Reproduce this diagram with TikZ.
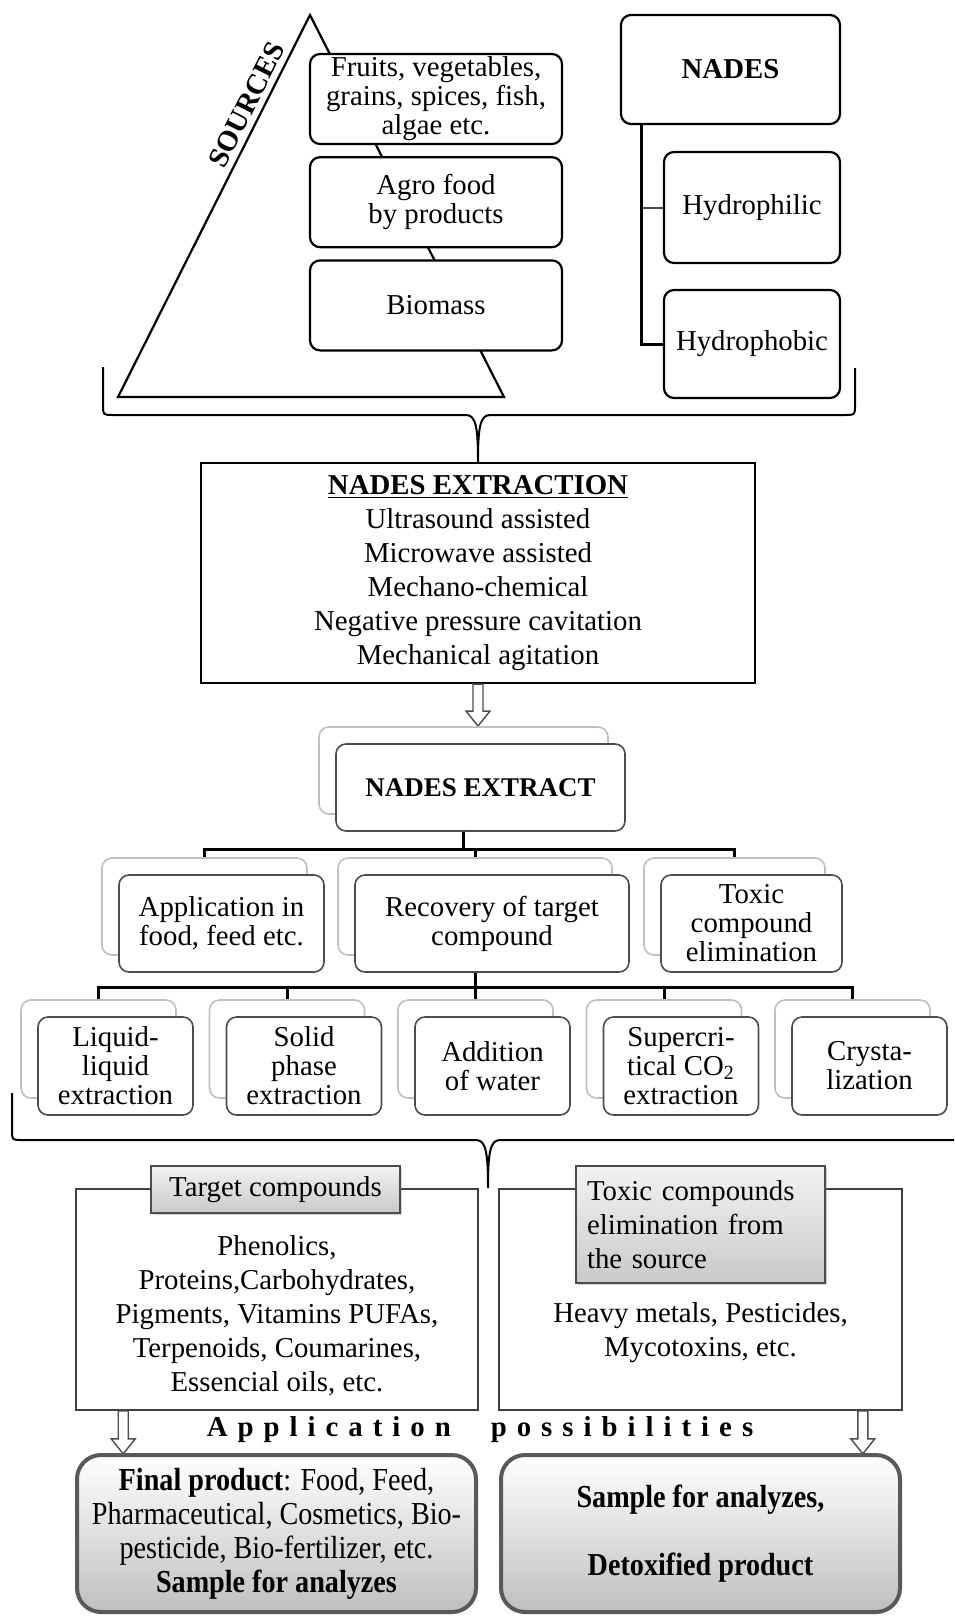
\documentclass[tikz,border=0pt]{standalone}
\usepackage{fontspec}
\setmainfont{Liberation Serif}
\newfontfamily\narrowfont[FakeStretch=0.88]{Liberation Serif}
\usepackage{tikz}
\usetikzlibrary{
    positioning,
    calc,
    shadows
}
\newcommand{\boxfont}{\fontsize{14.4}{14.5}\selectfont}
\newcommand{\listfont}{\fontsize{14.4}{17}\selectfont}
\newcommand{\lsp}{\hspace{5pt}}
\tikzset{
    srcbox/.style={
        rectangle, draw, line width=1.1pt,
        rounded corners=5pt, fill=white,
        minimum width=126pt, minimum height=45pt,
        inner sep=1pt, align=center, font=\boxfont
    },
    backbox/.style={
        rectangle, draw=gray!50, line width=0.8pt,
        rounded corners=5pt, fill=white, inner sep=1pt
    },
    frontbox/.style={
        backbox, draw=black!70, align=center, font=\boxfont
    },
    conn/.style={
        line width=1.5pt, draw=black
    },
    brace/.style={
        line width=1pt, draw=black
    },
    outerbox/.style={
        rectangle, draw=black!75, line width=0.8pt,
        minimum width=201pt, minimum height=110.5pt
    },
    labelbox/.style={
        rectangle, draw=black!70, line width=0.8pt,
        top color=gray!10, bottom color=gray!42,
        drop shadow={shadow xshift=1pt, shadow yshift=-1pt, opacity=0.35},
        minimum width=124.5pt, font=\listfont
    },
    finalbox/.style={
        rectangle, draw=black!65, line width=2pt, rounded corners=12pt,
        top color=white, bottom color=gray!50,
        minimum width=199.5pt, minimum height=78.5pt,
        align=center, font=\narrowfont\fontsize{16}{17}\selectfont
    },
    pics/openarrow/.style={code={
        \draw[line width=0.7pt, draw=black!70, fill=white]
            (-5,0) -- (-5,#1-15) -- (-12,#1-15) -- (0,#1) -- (12,#1-15) -- (5,#1-15) -- (5,0) -- cycle;
    }}
}
\begin{document}
\begin{tikzpicture}[x=0.5pt, y=-0.5pt]
    \useasboundingbox (0,0) rectangle (954,1616);

    % Sources pyramid
    \draw[line width=1.1pt, line join=miter] (310,15) -- (504,397) -- (118,397) -- cycle;
    \node[rotate=63.3, anchor=south, inner sep=3pt, font=\bfseries\boxfont] (sources) at (261,112) {SOURCES};
    \node[srcbox] (fruits) at (436,99) {Fruits, vegetables,\\grains, spices, fish,\\algae etc.};
    \node[srcbox, below=5.5pt of fruits] (agro) {Agro food\\by products};
    \node[srcbox, below=5.5pt of agro] (biomass) {Biomass};

    % NADES types
    \node[srcbox, minimum width=109.5pt, minimum height=54.5pt, font=\bfseries\boxfont] (nades) at (730.5,69.5) {NADES};
    \node[srcbox, minimum width=88pt, minimum height=55.5pt] (hphil) at (752,207.5) {Hydrophilic};
    \node[srcbox, minimum width=88pt, minimum height=54pt] (hphob) at (752,344) {Hydrophobic};
    \draw[line width=1pt, draw=black!70] ([xshift=11pt]nades.south west) |- (hphil.west);
    \draw[conn] ([xshift=11pt]nades.south west) |- (hphob.west);

    % Extraction
    \node[draw, line width=1.1pt, minimum width=277pt, minimum height=110pt, align=center, font=\listfont] (extraction) at (478,573)
        {\underline{\textbf{NADES EXTRACTION}}\\Ultrasound assisted\\Microwave assisted\\Mechano-chemical\\Negative pressure cavitation\\Mechanical agitation};
    \draw[brace] (103,367) -- (103,405) .. controls (103,415) .. (113,415) -- (466,415)
        .. controls (476,415) and (478,428) .. (extraction.north)
        .. controls (478,428) and (480,415) .. (490,415) -- (845,415)
        .. controls (855,415) .. (855,405) -- (855,368);
    \pic at (extraction.south) {openarrow=42};

    % Extract
    \node[backbox, minimum width=144.5pt, minimum height=43.5pt] (extractB) at (463.5,770.5) {};
    \node[frontbox, minimum width=144.5pt, minimum height=43.5pt, font=\bfseries\fontsize{13.5}{14}\selectfont] (extract) at ([shift={(17,17)}]extractB.center) {NADES EXTRACT};

    % Uses of the extract
    \node[backbox, minimum width=102.5pt, minimum height=48.5pt] (appB) at (204.5,906.5) {};
    \node[frontbox, minimum width=102.5pt, minimum height=48.5pt] (app) at ([shift={(17,17)}]appB.center) {Application in\\food, feed etc.};
    \node[backbox, minimum width=137pt, minimum height=48.5pt] (recB) at (475,906.5) {};
    \node[frontbox, minimum width=137pt, minimum height=48.5pt] (rec) at ([shift={(17,17)}]recB.center) {Recovery of target\\compound};
    \node[backbox, minimum width=90.5pt, minimum height=48.5pt] (toxB) at (734.5,906.5) {};
    \node[frontbox, minimum width=90.5pt, minimum height=48.5pt] (tox) at ([shift={(17,17)}]toxB.center) {Toxic\\compound\\elimination};

    \draw[conn] (extractB.south |- extract.south) -- ++(0,18) coordinate (split1);
    \draw[conn] (split1) -| (appB.north);
    \draw[conn] (split1) -| (recB.north);
    \draw[conn] (split1) -| (toxB.north);

    % Recovery methods
    \node[backbox, minimum width=77.5pt, minimum height=49pt] (liqB) at (98.5,1049) {};
    \node[frontbox, minimum width=77.5pt, minimum height=49pt] (liq) at ([shift={(17,17)}]liqB.center) {Liquid-\\liquid\\extraction};
    \node[backbox, minimum width=77.5pt, minimum height=49pt] (solB) at (287,1049) {};
    \node[frontbox, minimum width=77.5pt, minimum height=49pt] (sol) at ([shift={(17,17)}]solB.center) {Solid\\phase\\extraction};
    \node[backbox, minimum width=77.5pt, minimum height=49pt] (addB) at (475.5,1049) {};
    \node[frontbox, minimum width=77.5pt, minimum height=49pt] (add) at ([shift={(17,17)}]addB.center) {Addition\\of water};
    \node[backbox, minimum width=77.5pt, minimum height=49pt] (scB) at (664,1049) {};
    \node[frontbox, minimum width=77.5pt, minimum height=49pt] (sc) at ([shift={(17,17)}]scB.center) {Supercri-\\tical CO\textsubscript{2}\\extraction};
    \node[backbox, minimum width=77.5pt, minimum height=49pt] (cryB) at (852.5,1049) {};
    \node[frontbox, minimum width=77.5pt, minimum height=49pt] (cry) at ([shift={(17,17)}]cryB.center) {Crysta-\\lization};

    \draw[conn] (recB.south |- rec.south) -- ++(0,15) coordinate (split2);
    \draw[conn] (split2) -| (liqB.north);
    \draw[conn] (split2) -| (solB.north);
    \draw[conn] (split2) -| (addB.north);
    \draw[conn] (split2) -| (scB.north);
    \draw[conn] (split2) -| (cryB.north);

    % Lower brace
    \draw[brace] (12,1093) -- (12,1130) .. controls (12,1140) .. (22,1140) -- (476,1140)
        .. controls (486,1140) and (488,1153) .. (488,1188)
        .. controls (488,1153) and (490,1140) .. (500,1140) -- (954,1140);

    % Target compounds
    \node[outerbox] (target) at (277,1299.5) {};
    \node[labelbox, minimum height=23.5pt] (targetlbl) at (275.5,1189.5) {Target compounds};
    \node[align=center, font=\listfont] (targetlist) at (277,1316)
        {Phenolics,\\Proteins,Carbohydrates,\\Pigments, Vitamins PUFAs,\\Terpenoids, Coumarines,\\Essencial oils, etc.};

    % Toxic compounds
    \node[outerbox, minimum width=201.5pt] (toxic) at (700.5,1299.5) {};
    \node[labelbox, minimum height=58.5pt, text width=113.5pt, inner sep=5.5pt, align=left] (toxiclbl) at (700.5,1224.5)
        {Toxic compounds\\elimination from\\the source};
    \node[align=center, font=\listfont] (toxiclist) at (700.5,1333) {Heavy metals, Pesticides,\\Mycotoxins, etc.};

    % Applications
    \node[font=\bfseries\boxfont] (apposs) at (480,1430)
        {A\lsp p\lsp p\lsp l\lsp i\lsp c\lsp a\lsp t\lsp i\lsp o\lsp n\hspace{20pt}p\lsp o\lsp s\lsp s\lsp i\lsp b\lsp i\lsp l\lsp i\lsp t\lsp i\lsp e\lsp s};
    \pic at ([xshift=24pt]target.south west) {openarrow=43};
    \pic at ([xshift=-20pt]toxic.south east) {openarrow=43};

    \node[finalbox] (finalL) at (276.5,1533.5)
        {\textbf{Final product}: Food, Feed,\\Pharmaceutical, Cosmetics, Bio-\\pesticide, Bio-fertilizer, etc.\\\textbf{Sample for analyzes}};
    \node[finalbox] (finalR) at (700.5,1533.5) {\textbf{Sample for analyzes,}\\[17pt]\textbf{Detoxified product}};

\end{tikzpicture}
\end{document}
